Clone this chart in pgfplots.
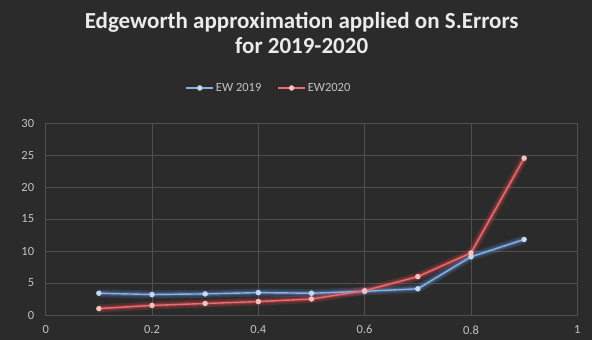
\documentclass[border=0pt]{standalone}
\usepackage{pgfplots}
\pgfplotsset{compat=1.18}
\usepackage{fontspec}
\setmainfont{Carlito}
\usetikzlibrary{backgrounds}
\definecolor{bg}{HTML}{2B2B2B}
\definecolor{gridc}{HTML}{505050}
\definecolor{tickc}{HTML}{C4C4C4}
\definecolor{blueline}{HTML}{5A8FD8}
\definecolor{redline}{HTML}{E8474C}
\begin{document}
\begin{tikzpicture}[x=1pt,y=1pt]
\begin{axis}[
  at={(0,0)}, anchor=south west,
  scale only axis, width=531.6pt, height=192pt,
  xmin=0, xmax=1, ymin=0, ymax=30,
  xtick={0,0.2,...,1}, ytick={0,5,...,30},
  xticklabels={0,0.2,0.4,0.6,0.8,1},
  /pgf/number format/assume math mode=true,
  ticklabel style={font=\fontsize{12.5}{14}\selectfont, text=tickc},
  xticklabel style={yshift=-7pt},
  yticklabel style={xshift=-8pt},
  tick style={draw=none},
  grid=major, major grid style={gridc, line width=0.7pt},
  axis line style={gridc, line width=0.7pt},
  legend style={at={(0.42,1.0)}, anchor=south, yshift=26pt, draw=none, fill=none,
    text=tickc, font=\fontsize{12.5}{14}\selectfont, legend columns=2,
    /tikz/every even column/.append style={column sep=14pt}},
  legend image code/.code={
    \draw[#1, mark=none] (0cm,0cm) -- (0.95cm,0cm);
    \draw[#1, only marks] plot coordinates {(0.475cm,0cm)};
  },
]
% glow layers
\addplot[blueline, opacity=0.2, line width=8pt, forget plot] coordinates {
(0.1,3.4) (0.2,3.2) (0.3,3.3) (0.4,3.5) (0.5,3.4) (0.6,3.7) (0.7,4.1) (0.8,9.1) (0.9,11.8)};
\addplot[redline, opacity=0.2, line width=8pt, forget plot] coordinates {
(0.1,1.0) (0.2,1.5) (0.3,1.8) (0.4,2.1) (0.5,2.5) (0.6,3.8) (0.7,6.0) (0.8,9.7) (0.9,24.5)};
\addplot[blueline, opacity=0.35, line width=4pt, forget plot] coordinates {
(0.1,3.4) (0.2,3.2) (0.3,3.3) (0.4,3.5) (0.5,3.4) (0.6,3.7) (0.7,4.1) (0.8,9.1) (0.9,11.8)};
\addplot[redline, opacity=0.35, line width=4pt, forget plot] coordinates {
(0.1,1.0) (0.2,1.5) (0.3,1.8) (0.4,2.1) (0.5,2.5) (0.6,3.8) (0.7,6.0) (0.8,9.7) (0.9,24.5)};
\addplot[blueline!70!white, line width=1.4pt, mark=*, mark size=2pt, mark options={fill=blueline!35!white, draw=blueline!35!white}] coordinates {
(0.1,3.4) (0.2,3.2) (0.3,3.3) (0.4,3.5) (0.5,3.4) (0.6,3.7) (0.7,4.1) (0.8,9.1) (0.9,11.8)};
\addlegendentry{EW 2019}
\addplot[redline!80!white, line width=1.4pt, mark=*, mark size=2pt, mark options={fill=redline!35!white, draw=redline!35!white}] coordinates {
(0.1,1.0) (0.2,1.5) (0.3,1.8) (0.4,2.1) (0.5,2.5) (0.6,3.8) (0.7,6.0) (0.8,9.7) (0.9,24.5)};
\addlegendentry{EW2020}
\end{axis}
\node[text=white!92!black, font=\fontsize{23}{25}\selectfont\bfseries, align=center, anchor=center] at (256pt,282pt) {Edgeworth approximation applied on S.Errors\\for 2019-2020};
\begin{pgfonlayer}{background}
\fill[bg] (-45.7pt,-25pt) rectangle (546.3pt,315pt);
\end{pgfonlayer}
\end{tikzpicture}
\end{document}
